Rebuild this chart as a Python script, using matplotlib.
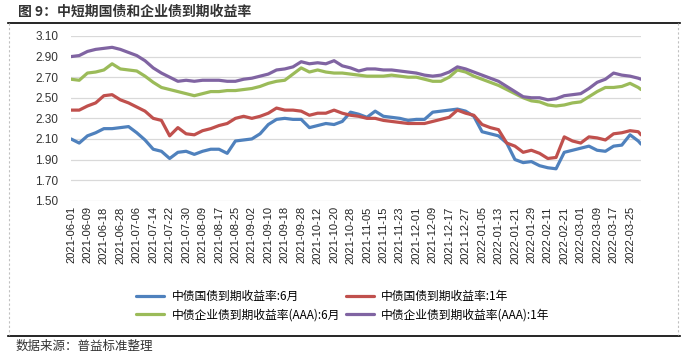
import numpy as np
import matplotlib
matplotlib.use('Agg')
import matplotlib.pyplot as plt
from matplotlib.lines import Line2D

CJK = ['Noto Sans CJK SC', 'DejaVu Sans']

# trading-day index of each sampled value (every 3rd trading day + last day)
day = np.r_[np.arange(0, 208, 3), 208]

gov_6m = [2.10, 2.06, 2.13, 2.16, 2.20, 2.20, 2.21, 2.22, 2.16, 2.09,
          2.00, 1.98, 1.91, 1.97, 1.98, 1.95, 1.98, 2.00, 2.00, 1.96,
          2.08, 2.09, 2.10, 2.15, 2.24, 2.29, 2.30, 2.29, 2.29, 2.21,
          2.23, 2.25, 2.24, 2.27, 2.36, 2.34, 2.31, 2.37, 2.32, 2.31,
          2.30, 2.28, 2.29, 2.29, 2.36, 2.37, 2.38, 2.39, 2.37, 2.32,
          2.17, 2.15, 2.13, 2.06, 1.90, 1.87, 1.88, 1.84, 1.82, 1.81,
          1.97, 1.99, 2.01, 2.03, 1.99, 1.98, 2.03, 2.04, 2.14, 2.08,
          2.05]
gov_1y = [2.38, 2.38, 2.42, 2.45, 2.52, 2.53, 2.48, 2.45, 2.41, 2.37,
          2.30, 2.28, 2.13, 2.21, 2.15, 2.14, 2.18, 2.20, 2.23, 2.25,
          2.30, 2.32, 2.30, 2.32, 2.35, 2.40, 2.38, 2.38, 2.37, 2.33,
          2.35, 2.35, 2.38, 2.35, 2.33, 2.32, 2.30, 2.30, 2.28, 2.27,
          2.26, 2.25, 2.25, 2.25, 2.27, 2.29, 2.31, 2.38, 2.35, 2.33,
          2.24, 2.21, 2.19, 2.06, 2.03, 1.97, 1.99, 1.96, 1.91, 1.92,
          2.12, 2.08, 2.06, 2.12, 2.11, 2.09, 2.15, 2.16, 2.18, 2.17,
          2.14]
corp_6m = [2.68, 2.67, 2.74, 2.75, 2.77, 2.83, 2.78, 2.77, 2.76, 2.71,
           2.65, 2.60, 2.58, 2.56, 2.54, 2.52, 2.54, 2.56, 2.56, 2.57,
           2.57, 2.58, 2.59, 2.61, 2.64, 2.66, 2.67, 2.73, 2.79, 2.75,
           2.77, 2.75, 2.74, 2.74, 2.73, 2.72, 2.71, 2.71, 2.71, 2.72,
           2.71, 2.70, 2.70, 2.68, 2.66, 2.66, 2.70, 2.77, 2.75, 2.71,
           2.68, 2.65, 2.62, 2.58, 2.54, 2.50, 2.47, 2.46, 2.43, 2.42,
           2.43, 2.45, 2.46, 2.51, 2.56, 2.60, 2.60, 2.61, 2.64, 2.60,
           2.58]
corp_1y = [2.90, 2.91, 2.95, 2.97, 2.98, 2.99, 2.97, 2.94, 2.91, 2.86,
           2.79, 2.74, 2.70, 2.66, 2.67, 2.66, 2.67, 2.67, 2.67, 2.66,
           2.66, 2.68, 2.69, 2.71, 2.73, 2.77, 2.78, 2.80, 2.85, 2.83,
           2.84, 2.83, 2.86, 2.81, 2.79, 2.76, 2.78, 2.78, 2.77, 2.77,
           2.76, 2.75, 2.74, 2.72, 2.71, 2.72, 2.75, 2.80, 2.78, 2.75,
           2.72, 2.69, 2.66, 2.61, 2.56, 2.51, 2.50, 2.50, 2.48, 2.49,
           2.52, 2.53, 2.54, 2.59, 2.65, 2.68, 2.74, 2.72, 2.71, 2.69,
           2.68]

tick_labels = ['2021-06-01', '2021-06-09', '2021-06-18', '2021-06-28', '2021-07-06',
               '2021-07-14', '2021-07-22', '2021-07-30', '2021-08-09', '2021-08-17',
               '2021-08-25', '2021-09-02', '2021-09-10', '2021-09-18', '2021-09-28',
               '2021-10-12', '2021-10-20', '2021-10-28', '2021-11-05', '2021-11-15',
               '2021-11-23', '2021-12-01', '2021-12-09', '2021-12-17', '2021-12-27',
               '2022-01-05', '2022-01-13', '2022-01-21', '2022-01-29', '2022-02-11',
               '2022-02-21', '2022-03-01', '2022-03-09', '2022-03-17', '2022-03-25']
y_ticks = [1.50, 1.70, 1.90, 2.10, 2.30, 2.50, 2.70, 2.90, 3.10]

names = ['中债国债到期收益率:6月', '中债国债到期收益率:1年',
         '中债企业债到期收益率(AAA):6月', '中债企业债到期收益率(AAA):1年']
colors = ['#4F81BD', '#C0504D', '#9BBB59', '#8064A2']

W, H = 684, 356


def fx(px):
    return px / W


def fy(py):
    return 1 - py / H


fig = plt.figure(figsize=(W / 100, H / 100), dpi=100)
ax = fig.add_axes([fx(71), fy(200.7), fx(570), 164.7 / H])

lines = []
for vals, name, c in zip([gov_6m, gov_1y, corp_6m, corp_1y], names, colors):
    ln, = ax.plot(day, vals, color=c, lw=2.3, label=name, solid_capstyle='round')
    lines.append(ln)

ax.set_xlim(0, 208)
ax.set_ylim(1.5, 3.1)
ax.set_yticks(y_ticks)
ax.set_yticklabels(['%.2f' % v for v in y_ticks], fontsize=8.5,
                   family='Liberation Sans', color='#333333')
ax.set_xticks(np.arange(len(tick_labels)) * 6)
ax.set_xticklabels(tick_labels, rotation=90, fontsize=8,
                   family='Liberation Sans', color='#222222')
ax.tick_params(length=0, axis='x', pad=4)
ax.tick_params(length=0, axis='y', pad=9)
ax.grid(axis='y', color='#d9d9d9', lw=0.9)
ax.set_axisbelow(True)
for s in ax.spines.values():
    s.set_visible(False)

# legend: two columns, blue/green left, red/purple right
fig.legend([lines[0], lines[2], lines[1], lines[3]],
           [names[0], names[2], names[1], names[3]],
           ncol=2, loc='upper left', bbox_to_anchor=(fx(136), fy(290)),
           frameon=False, borderpad=0, borderaxespad=0,
           handlelength=2.4, handletextpad=0.6, columnspacing=0.5,
           labelspacing=0.45, prop={'family': CJK, 'size': 8.5})

# title, frame lines and source note
fig.text(fx(18), fy(12), '图 9：中短期国债和企业债到期收益率', va='center', ha='left',
         fontsize=10, fontweight='bold', family=CJK, color='#333333')
fig.add_artist(Line2D([fx(8), fx(680)], [fy(22.5), fy(22.5)], color='black', lw=1.2))
fig.add_artist(Line2D([fx(8), fx(680)], [fy(335.5), fy(335.5)], color='black', lw=1.2))
for xb in (8.5, 677.5):
    fig.add_artist(Line2D([fx(xb), fx(xb)], [fy(23), fy(335)], color='#c0c0c0',
                          lw=0.8, ls=(0, (2, 2))))
fig.text(fx(16), fy(346), '数据来源：普益标准整理', va='center', ha='left',
         fontsize=9, family=CJK, color='#333333')

fig.savefig('out.png', dpi=100)
